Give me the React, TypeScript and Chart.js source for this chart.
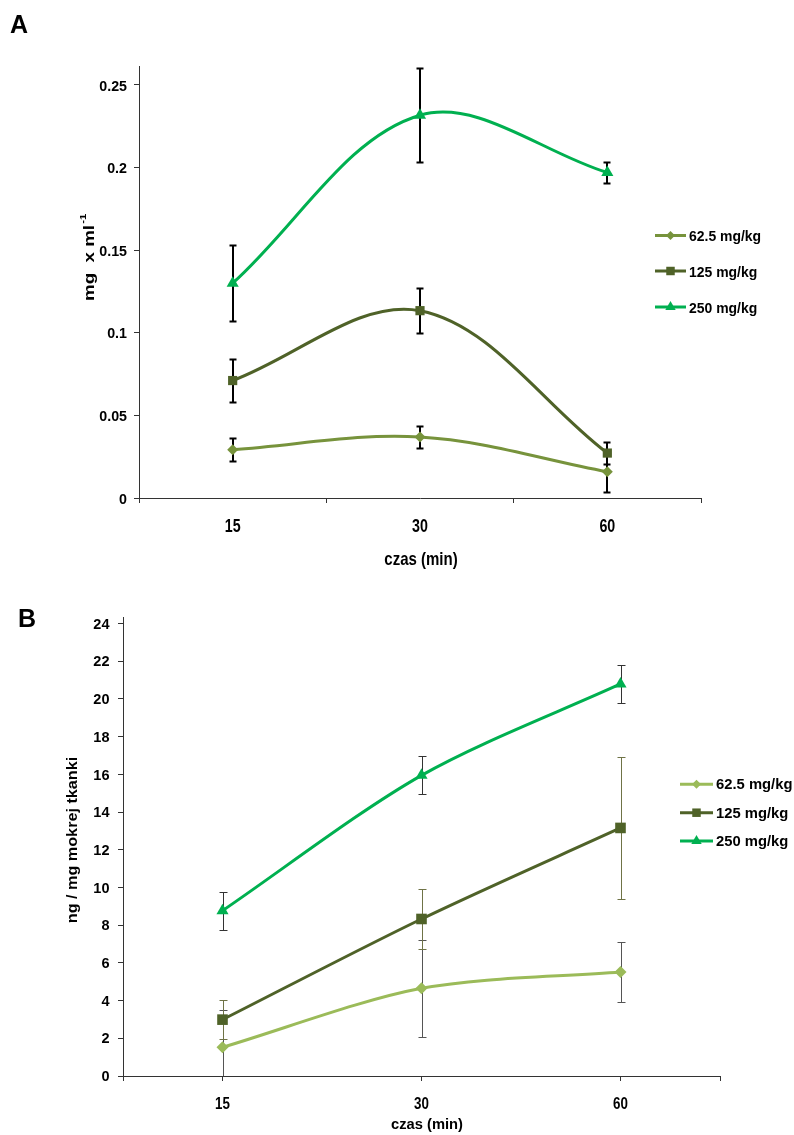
import React, { useEffect, useRef } from 'react';
import { Chart, registerables } from 'chart.js';

Chart.register(...registerables);

// ---- shared ----
const timeLabels = ['15', '30', '60'];
const doseLabels = ['62.5 mg/kg', '125 mg/kg', '250 mg/kg'];
const doseStyles = ['rectRot', 'rect', 'triangle'];

// ---- panel A: serum level (mg x ml-1) ----
const serum625 = [0.0292, 0.0369, 0.0159];
const serum625Err = [0.0071, 0.0066, 0.0121];
const serum125 = [0.0711, 0.1134, 0.0272];
const serum125Err = [0.013, 0.0135, 0.0066];
const serum250 = [0.130, 0.2317, 0.197];
const serum250Err = [0.023, 0.0285, 0.0065];
const serumTicks = [0, 0.05, 0.1, 0.15, 0.2, 0.25];

// ---- panel B: tissue level (ng / mg wet tissue) ----
const tissue625 = [1.52, 4.65, 5.52];
const tissue625Err = [2.0, 2.58, 1.57];
const tissue125 = [2.99, 8.33, 13.16];
const tissue125Err = [1.04, 1.58, 3.75];
const tissue250 = [8.77, 15.95, 20.8];
const tissue250Err = [1.0, 1.0, 1.03];
const tissueTicks = [0, 2, 4, 6, 8, 10, 12, 14, 16, 18, 20, 22, 24];

const FONT = "'Liberation Sans', Arial, sans-serif";
const AXIS = '#333333';

const colorsA = ['#77933C', '#4F6228', '#00B050'];
const colorsB = ['#9BBB59', '#4F6228', '#00B050'];

// Bold text, optionally condensed horizontally by sx, anchored at (x, y).
function text(
  ctx: CanvasRenderingContext2D,
  str: string,
  x: number,
  y: number,
  size: number,
  sx: number,
  align: CanvasTextAlign,
  baseline: CanvasTextBaseline,
) {
  ctx.save();
  ctx.translate(x, y);
  ctx.scale(sx, 1);
  ctx.font = `bold ${size}px ${FONT}`;
  ctx.fillStyle = '#000';
  ctx.textAlign = align;
  ctx.textBaseline = baseline;
  ctx.fillText(str, 0, 0);
  ctx.restore();
}

function rotatedText(ctx: CanvasRenderingContext2D, str: string, sup: string | undefined, cx: number, cy: number, size: number, sx: number) {
  ctx.save();
  ctx.translate(cx, cy);
  ctx.rotate(-Math.PI / 2);
  ctx.scale(sx, 1);
  ctx.fillStyle = '#000';
  ctx.textBaseline = 'middle';
  ctx.textAlign = 'left';
  ctx.font = `bold ${size}px ${FONT}`;
  const w = ctx.measureText(str).width;
  ctx.font = `bold ${Math.round(size * 0.6)}px ${FONT}`;
  const ws = sup ? ctx.measureText(sup).width : 0;
  const start = -(w + ws) / 2;
  ctx.font = `bold ${size}px ${FONT}`;
  ctx.fillText(str, start, 0);
  if (sup) {
    ctx.font = `bold ${Math.round(size * 0.6)}px ${FONT}`;
    ctx.fillText(sup, start + w + 1, -size * 0.4);
  }
  ctx.restore();
}

function drawMarker(ctx: CanvasRenderingContext2D, style: string, x: number, y: number, r: number, color: string) {
  ctx.save();
  ctx.fillStyle = color;
  ctx.beginPath();
  if (style === 'rectRot') {
    ctx.moveTo(x, y - r);
    ctx.lineTo(x + r, y);
    ctx.lineTo(x, y + r);
    ctx.lineTo(x - r, y);
  } else if (style === 'rect') {
    const s = r * Math.SQRT1_2;
    ctx.rect(x - s, y - s, 2 * s, 2 * s);
  } else {
    const a = (2 * Math.PI) / 3;
    ctx.moveTo(x, y - r);
    ctx.lineTo(x + Math.sin(a) * r, y - Math.cos(a) * r);
    ctx.lineTo(x - Math.sin(a) * r, y - Math.cos(a) * r);
  }
  ctx.closePath();
  ctx.fill();
  ctx.restore();
}

function makeErrorBars(width: number, cap: number) {
  return {
    id: 'errorBars',
    beforeDatasetsDraw(chart: any) {
      const { ctx, chartArea } = chart;
      const yScale = chart.scales.y;
      chart.data.datasets.forEach((ds: any, i: number) => {
        const meta = chart.getDatasetMeta(i);
        ctx.save();
        ctx.strokeStyle = ds.errColor;
        ctx.lineWidth = width;
        ds.errors.forEach((e: number, j: number) => {
          const el = meta.data[j];
          const v = ds.data[j].y;
          const x = Math.round(el.x) + (width % 2 === 1 ? 0.5 : 0);
          const yTop = Math.round(yScale.getPixelForValue(v + e)) + 0.5;
          let yBot = Math.round(yScale.getPixelForValue(v - e)) + 0.5;
          const clipped = yBot > chartArea.bottom;
          if (clipped) yBot = chartArea.bottom;
          ctx.beginPath();
          ctx.moveTo(x, yTop);
          ctx.lineTo(x, yBot);
          ctx.moveTo(x - cap, yTop);
          ctx.lineTo(x + cap, yTop);
          if (!clipped) {
            ctx.moveTo(x - cap, yBot);
            ctx.lineTo(x + cap, yBot);
          }
          ctx.stroke();
        });
        ctx.restore();
      });
    },
  };
}

interface TextStyle {
  size: number;
  sx: number;
}

interface DecorCfg {
  letter: string;
  letterX: number;
  letterY: number;
  yTicks: number[];
  yTickStyle: TextStyle;
  yTickRight: number;
  xTickStyle: TextStyle;
  xTickBaseline: number;
  xTitle: string;
  xTitleStyle: TextStyle;
  xTitleX: number;
  xTitleY: number;
  yTitle: string;
  yTitleSup?: string;
  yTitleStyle: TextStyle;
  yTitleX: number;
  yTitleY: number;
  legendX: number;
  legendY: number[];
  legendLine: number;
  legendRadius: number[];
  legendStyle: TextStyle;
  colors: string[];
}

function makeDecor(cfg: DecorCfg) {
  return {
    id: 'decor',
    afterDraw(chart: any) {
      const ctx: CanvasRenderingContext2D = chart.ctx;
      const { x: xs, y: ys } = chart.scales;

      text(ctx, cfg.letter, cfg.letterX, cfg.letterY, 25, 1, 'left', 'alphabetic');

      // tick labels
      cfg.yTicks.forEach((v) => {
        const py = ys.getPixelForValue(v);
        text(ctx, String(v), cfg.yTickRight, py + cfg.yTickStyle.size * 0.358, cfg.yTickStyle.size, cfg.yTickStyle.sx, 'right', 'alphabetic');
      });
      timeLabels.forEach((lab, i) => {
        const px = xs.getPixelForValue(i);
        text(ctx, lab, px, cfg.xTickBaseline, cfg.xTickStyle.size, cfg.xTickStyle.sx, 'center', 'alphabetic');
      });

      // axis titles
      text(ctx, cfg.xTitle, cfg.xTitleX, cfg.xTitleY, cfg.xTitleStyle.size, cfg.xTitleStyle.sx, 'center', 'middle');
      rotatedText(ctx, cfg.yTitle, cfg.yTitleSup, cfg.yTitleX, cfg.yTitleY, cfg.yTitleStyle.size, cfg.yTitleStyle.sx);

      // legend
      doseLabels.forEach((label, i) => {
        const y = cfg.legendY[i];
        ctx.save();
        ctx.strokeStyle = cfg.colors[i];
        ctx.lineWidth = 3;
        ctx.beginPath();
        ctx.moveTo(cfg.legendX, y);
        ctx.lineTo(cfg.legendX + cfg.legendLine, y);
        ctx.stroke();
        ctx.restore();
        drawMarker(ctx, doseStyles[i], cfg.legendX + cfg.legendLine / 2, y, cfg.legendRadius[i], cfg.colors[i]);
        text(ctx, label, cfg.legendX + cfg.legendLine + 3, y + cfg.legendStyle.size * 0.358, cfg.legendStyle.size, cfg.legendStyle.sx, 'left', 'alphabetic');
      });
    },
  };
}

function series(values: number[], errors: number[], label: string, color: string, style: string, radius: number, errColor: string, width: number, tension: number) {
  return {
    label,
    data: values.map((y, i) => ({ x: i, y })),
    errors,
    errColor,
    borderColor: color,
    backgroundColor: color,
    pointBackgroundColor: color,
    pointBorderColor: color,
    pointBorderWidth: 0,
    pointStyle: style,
    pointRadius: radius,
    borderWidth: width,
    tension,
    fill: false,
  };
}

const categoryBounds = timeLabels.map((_, i) => i - 0.5).concat(timeLabels.length - 0.5);

function xAxis(tickValues: number[], hideTickAtLabels: boolean, height: number) {
  return {
    type: 'linear',
    min: -0.5,
    max: timeLabels.length - 0.5,
    afterBuildTicks: (s: any) => {
      s.ticks = tickValues.map((v) => ({ value: v }));
    },
    afterFit: (s: any) => {
      s.height = height;
    },
    ticks: { display: false, autoSkip: false },
    grid: {
      drawOnChartArea: false,
      drawTicks: true,
      tickLength: 5,
      tickColor: (c: any) => (hideTickAtLabels && Number.isInteger(c.tick?.value) ? 'rgba(0,0,0,0)' : AXIS),
      color: AXIS,
    },
    border: { display: true, color: AXIS, width: 1 },
  };
}

function yAxis(ticks: number[], max: number, width: number) {
  return {
    type: 'linear',
    min: 0,
    max,
    afterBuildTicks: (s: any) => {
      s.ticks = ticks.map((v) => ({ value: v }));
    },
    afterFit: (s: any) => {
      s.width = width;
    },
    ticks: { display: false, autoSkip: false },
    grid: { drawOnChartArea: false, drawTicks: true, tickLength: 5, color: AXIS, tickColor: AXIS },
    border: { display: true, color: AXIS, width: 1 },
  };
}

function configA(): any {
  return {
    type: 'line',
    data: {
      datasets: [
        series(serum625, serum625Err, doseLabels[0], colorsA[0], doseStyles[0], 5.5, '#000', 3, 0.35),
        series(serum125, serum125Err, doseLabels[1], colorsA[1], doseStyles[1], 6.5, '#000', 3, 0.35),
        series(serum250, serum250Err, doseLabels[2], colorsA[2], doseStyles[2], 7, '#000', 3, 0.35),
      ],
    },
    options: {
      responsive: false,
      animation: false,
      layout: { padding: { left: 0, top: 66, right: 93, bottom: 0 } },
      plugins: { legend: { display: false }, tooltip: { enabled: false } },
      scales: {
        x: xAxis(categoryBounds.flatMap((b, i) => (i < timeLabels.length ? [b, i] : [b])), true, 82),
        y: yAxis(serumTicks, 0.2615, 139),
      },
    },
    plugins: [
      makeErrorBars(2, 3.5),
      makeDecor({
        letter: 'A',
        letterX: 10,
        letterY: 33,
        yTicks: serumTicks,
        yTickStyle: { size: 15.5, sx: 0.92 },
        yTickRight: 127,
        xTickStyle: { size: 18.5, sx: 0.77 },
        xTickBaseline: 532,
        xTitle: 'czas (min)',
        xTitleStyle: { size: 19, sx: 0.79 },
        xTitleX: 421,
        xTitleY: 560,
        yTitle: 'mg  x ml',
        yTitleSup: '-1',
        yTitleStyle: { size: 15, sx: 1.25 },
        yTitleX: 90,
        yTitleY: 258,
        legendX: 655,
        legendY: [235.5, 271, 307],
        legendLine: 31,
        legendRadius: [4.5, 6, 6],
        legendStyle: { size: 15.5, sx: 0.9 },
        colors: colorsA,
      }),
    ],
  };
}

function configB(): any {
  return {
    type: 'line',
    data: {
      datasets: [
        series(tissue625, tissue625Err, doseLabels[0], colorsB[0], doseStyles[0], 6, '#555555', 3, 0.3),
        series(tissue125, tissue125Err, doseLabels[1], colorsB[1], doseStyles[1], 7.5, '#6F7346', 3, 0.3),
        series(tissue250, tissue250Err, doseLabels[2], colorsB[2], doseStyles[2], 7, '#333333', 3, 0.3),
      ],
    },
    options: {
      responsive: false,
      animation: false,
      layout: { padding: { left: 0, top: 37, right: 74, bottom: 0 } },
      plugins: { legend: { display: false }, tooltip: { enabled: false } },
      scales: {
        x: xAxis([categoryBounds[0], ...timeLabels.map((_, i) => i), categoryBounds[categoryBounds.length - 1]], false, 59),
        y: yAxis(tissueTicks, 24.35, 123),
      },
    },
    plugins: [
      makeErrorBars(1, 4),
      makeDecor({
        letter: 'B',
        letterX: 18,
        letterY: 47,
        yTicks: tissueTicks,
        yTickStyle: { size: 14.5, sx: 1.0 },
        yTickRight: 109.5,
        xTickStyle: { size: 16.3, sx: 0.82 },
        xTickBaseline: 528.5,
        xTitle: 'czas (min)',
        xTitleStyle: { size: 15, sx: 0.98 },
        xTitleX: 427,
        xTitleY: 545,
        yTitle: 'ng / mg mokrej tkanki',
        yTitleStyle: { size: 15, sx: 1.08 },
        yTitleX: 73,
        yTitleY: 260,
        legendX: 680,
        legendY: [204.3, 232.7, 261],
        legendLine: 33,
        legendRadius: [4.5, 6, 6],
        legendStyle: { size: 14.5, sx: 1.02 },
        colors: colorsB,
      }),
    ],
  };
}

function Panel({ make, top, height }: { make: () => any; top: number; height: number }) {
  const ref = useRef<HTMLCanvasElement>(null);
  useEffect(() => {
    const chart = new Chart(ref.current as HTMLCanvasElement, make());
    return () => chart.destroy();
  }, [make]);
  return (
    <div style={{ position: 'absolute', left: 0, top, width: 794, height }}>
      <canvas ref={ref} width={794} height={height} style={{ display: 'block' }} />
    </div>
  );
}

export default function App() {
  return (
    <div>
      <Panel make={configA} top={0} height={580} />
      <Panel make={configB} top={580} height={555} />
    </div>
  );
}
